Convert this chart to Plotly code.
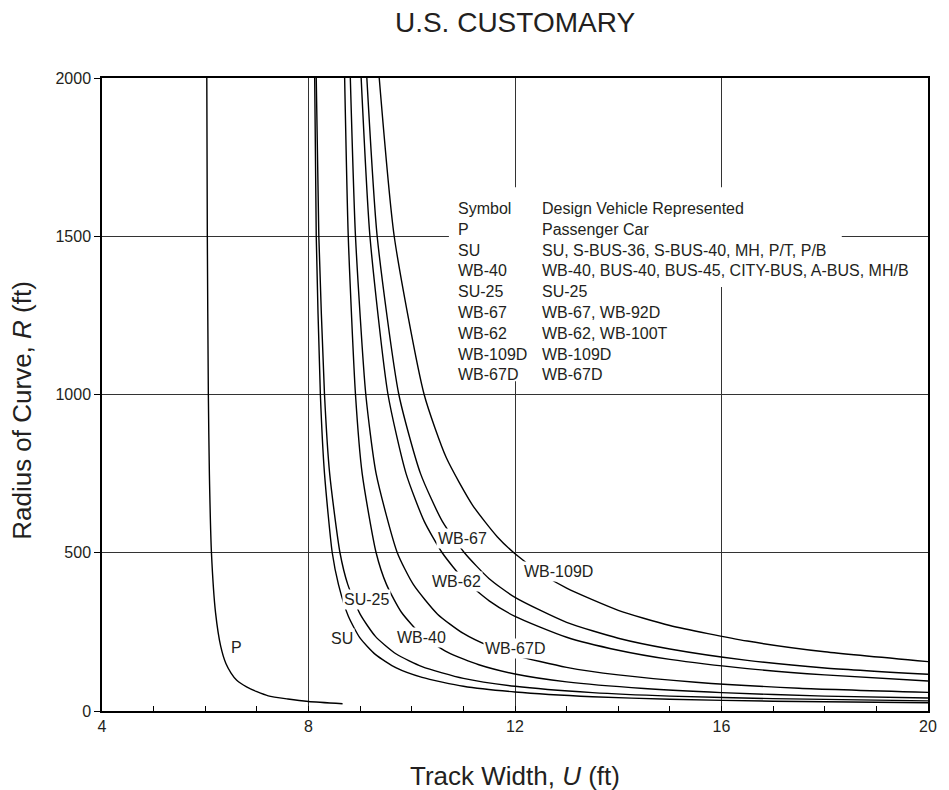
import plotly.graph_objects as go

# Track width U (ft) against radius of curve R (ft) for each design vehicle
p_u = [6.03, 6.04, 6.06, 6.08, 6.12, 6.20, 6.30, 6.40, 6.50, 6.61, 6.80, 7.00, 7.22, 7.60, 8.00, 8.66]
p_r = [2000, 1500, 1000, 750, 500, 310, 204, 150, 120, 97, 76, 61, 48, 38, 30, 23]

su_u = [8.12, 8.15, 8.23, 8.31, 8.46, 8.58, 8.77, 9.0, 9.3, 9.7, 10.2, 11.0, 12.0, 13.5, 15.0, 17.0, 20.0]
su_r = [2000, 1500, 1000, 750, 500, 400, 300, 230, 178, 136, 106, 78, 60, 45, 37, 31, 26]

su25_u = [8.15, 8.20, 8.31, 8.41, 8.61, 8.76, 9.0, 9.3, 9.7, 10.2, 11.0, 12.0, 13.5, 15.0, 17.0, 20.0]
su25_r = [2000, 1500, 1000, 750, 500, 400, 306, 235, 180, 140, 103, 78, 58, 47, 39, 32]

wb40_u = [8.70, 8.77, 8.91, 9.04, 9.31, 9.51, 9.8, 10.2, 10.7, 11.3, 12.0, 13.0, 14.5, 16.0, 18.0, 20.0]
wb40_r = [2000, 1500, 1000, 750, 500, 400, 312, 239, 185, 146, 117, 92, 71, 58, 47, 41]

wb67d_u = [8.81, 8.91, 9.11, 9.31, 9.72, 10.03, 10.5, 11.0, 11.5, 12.0, 13.0, 14.0, 15.5, 17.5, 20.0]
wb67d_r = [2000, 1500, 1000, 750, 500, 400, 306, 245, 205, 176, 138, 114, 91, 72, 59]

wb62_u = [9.02, 9.19, 9.54, 9.89, 10.24, 10.59, 11.0, 11.5, 12.0, 13.0, 14.0, 15.0, 16.5, 18.0, 20.0]
wb62_r = [2000, 1500, 1000, 750, 600, 500, 417, 348, 299, 233, 192, 163, 134, 114, 95]

wb67_u = [9.13, 9.33, 9.75, 10.17, 10.59, 11.02, 11.5, 12.0, 13.0, 14.0, 15.0, 16.5, 18.0, 20.0]
wb67_r = [2000, 1500, 1000, 750, 600, 500, 418, 359, 280, 230, 196, 160, 136, 116]

wb109d_u = [9.37, 9.66, 10.24, 10.67, 11.18, 11.66, 12.0, 12.5, 13.0, 14.0, 15.0, 16.5, 18.0, 20.0]
wb109d_r = [2000, 1500, 1000, 800, 650, 550, 497, 436, 388, 318, 270, 221, 187, 156]

curves = [
    (p_u, p_r), (su_u, su_r), (su25_u, su25_r), (wb40_u, wb40_r),
    (wb67d_u, wb67d_r), (wb62_u, wb62_r), (wb67_u, wb67_r), (wb109d_u, wb109d_r),
]

# curve labels and where they sit on the chart
label_text = ["P", "SU", "SU-25", "WB-40", "WB-62", "WB-67", "WB-67D", "WB-109D"]
label_u = [6.60, 8.64, 9.13, 10.19, 10.87, 10.99, 12.00, 12.84]
label_r = [201, 228, 352, 233, 410, 544, 197, 441]

# table of symbols
symbols = ["Symbol", "P", "SU", "WB-40", "SU-25", "WB-67", "WB-62", "WB-109D", "WB-67D"]
vehicles = [
    "Design Vehicle Represented",
    "Passenger Car",
    "SU, S-BUS-36, S-BUS-40, MH, P/T, P/B",
    "WB-40, BUS-40, BUS-45, CITY-BUS, A-BUS, MH/B",
    "SU-25",
    "WB-67, WB-92D",
    "WB-62, WB-100T",
    "WB-109D",
    "WB-67D",
]

FONT = "Liberation Sans, Arial, Helvetica, sans-serif"
INK = "#231f20"

fig = go.Figure()
for u, r in curves:
    fig.add_trace(go.Scatter(x=u, y=r, mode="lines", line=dict(color="black", width=1.4, shape="spline", smoothing=0.6),
                             hoverinfo="skip", showlegend=False))

for t, u, r in zip(label_text, label_u, label_r):
    fig.add_annotation(x=u, y=r, text=t, showarrow=False, bgcolor="white", borderpad=1,
                       font=dict(size=16, color=INK, family=FONT))

# white patches that break the grid behind the table
fig.add_shape(type="rect", x0=10.72, x1=18.33, y0=1340, y1=1655, fillcolor="white", line_width=0, layer="above")
fig.add_shape(type="rect", x0=10.72, x1=12.5, y0=1042, y1=1340, fillcolor="white", line_width=0, layer="above")

fig.add_annotation(x=10.86, y=1327, text="<br>".join(symbols), showarrow=False, xanchor="left", yanchor="middle",
                   align="left", font=dict(size=16, color=INK, family=FONT))
fig.add_annotation(x=12.49, y=1327, text="<br>".join(vehicles), showarrow=False, xanchor="left", yanchor="middle",
                   align="left", font=dict(size=16, color=INK, family=FONT))

# axis titles
fig.add_annotation(xref="paper", yref="paper", x=0.5, y=-0.1027, text="Track Width, <i>U</i> (ft)",
                   showarrow=False, yanchor="middle", font=dict(size=26, color=INK, family=FONT))
fig.add_annotation(xref="paper", yref="paper", x=-0.0971, y=0.4755, text="Radius of Curve, <i>R</i> (ft)",
                   showarrow=False, textangle=-90, xanchor="center", yanchor="middle",
                   font=dict(size=26, color=INK, family=FONT))

# the page body adds 8 px round the figure, so the figure is 16 px smaller and shifted
fig.update_layout(
    width=941, height=782,
    margin=dict(l=94, r=13, t=70, b=79),
    paper_bgcolor="white", plot_bgcolor="white",
    font=dict(family=FONT, color=INK, size=16),
    title=dict(text="U.S. CUSTOMARY", x=0.5, xref="paper", xanchor="center", y=0.982, yref="container",
               yanchor="middle", font=dict(size=28, color=INK, family=FONT)),
)
fig.update_xaxes(
    range=[4, 20], tickvals=[4, 8, 12, 16, 20], showgrid=True, gridcolor="#333333", gridwidth=1,
    showline=True, linecolor="black", linewidth=1.5, mirror=True, zeroline=False,
    ticks="inside", ticklen=5, tickcolor="black",
    minor=dict(dtick=1, ticks="inside", ticklen=5, tickcolor="black", showgrid=False),
    tickfont=dict(size=16), fixedrange=True,
)
fig.update_yaxes(
    range=[0, 2000], tickvals=[0, 500, 1000, 1500, 2000], showgrid=True, gridcolor="#333333", gridwidth=1,
    showline=True, linecolor="black", linewidth=1.5, mirror=True, zeroline=False,
    ticks="outside", ticklen=6, tickcolor="black", tickfont=dict(size=16), fixedrange=True,
)

fig.write_html("out.html", config={"displayModeBar": False})
